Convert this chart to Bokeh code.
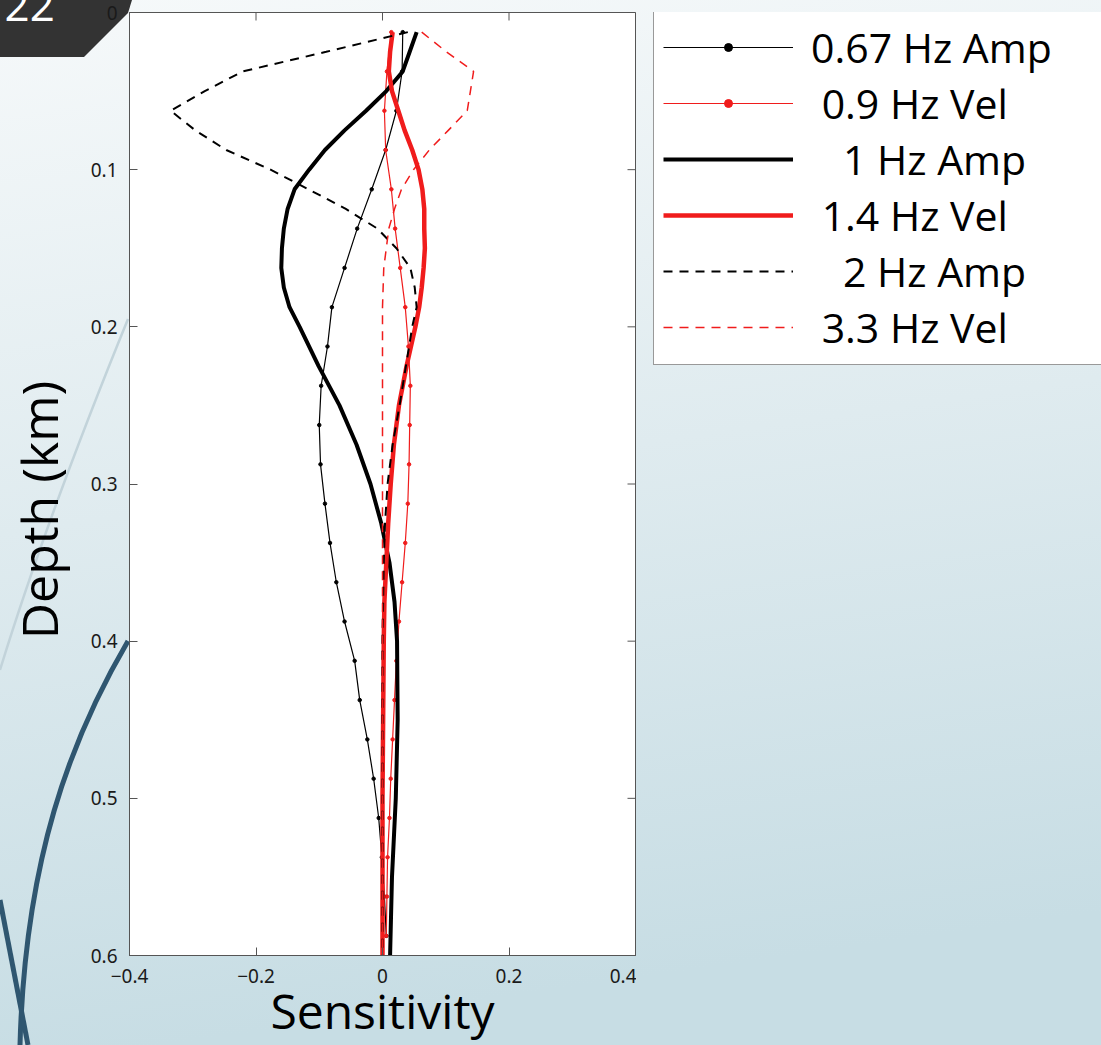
import math
import urllib.parse
from bokeh.plotting import figure
from bokeh.layouts import row
from bokeh.models import Legend, LegendItem, FixedTicker, Range1d
from bokeh.embed import file_html
from bokeh.resources import INLINE

# ---------------- data ----------------
depth_marked = [0.0125, 0.0375, 0.0625, 0.0875, 0.1125, 0.1375, 0.1625, 0.1875,
                0.2125, 0.2375, 0.2625, 0.2875, 0.3125, 0.3375, 0.3625, 0.3875,
                0.4125, 0.4375, 0.4625, 0.4875, 0.5125, 0.5375, 0.5625, 0.5875]
amp_067 = [0.032, 0.031, 0.022, 0.005, -0.017, -0.040, -0.060, -0.080,
           -0.087, -0.097, -0.100, -0.098, -0.091, -0.083, -0.073, -0.060,
           -0.044, -0.036, -0.024, -0.014, -0.006, -0.001, 0.003, 0.006]
vel_09 = [0.014, 0.007, 0.003, 0.005, 0.014, 0.020, 0.028, 0.036,
          0.041, 0.044, 0.043, 0.042, 0.040, 0.036, 0.031, 0.026,
          0.022, 0.019, 0.016, 0.013, 0.011, 0.008, 0.007, 0.006]

depth_fine = [0.0125, 0.025, 0.0375, 0.05, 0.0625, 0.075, 0.0875, 0.1, 0.1125,
              0.125, 0.1375, 0.15, 0.1625, 0.175, 0.1875, 0.2, 0.225, 0.25,
              0.275, 0.3, 0.325, 0.35, 0.375, 0.4, 0.45, 0.5, 0.55, 0.6]
amp_1 = [0.054, 0.043, 0.032, 0.006, -0.026, -0.060, -0.091, -0.116, -0.139,
         -0.150, -0.156, -0.159, -0.160, -0.156, -0.147, -0.131, -0.101, -0.068,
         -0.041, -0.019, -0.002, 0.011, 0.019, 0.023, 0.024, 0.021, 0.015, 0.012]
vel_14 = [0.016, 0.012, 0.010, 0.015, 0.025, 0.035, 0.047, 0.057, 0.063,
          0.066, 0.066, 0.067, 0.065, 0.062, 0.058, 0.052, 0.038, 0.026,
          0.018, 0.013, 0.009, 0.006, 0.003, 0.002, 0.001, 0.0, 0.0, 0.0]
amp_2 = [0.040, -0.089, -0.221, -0.281, -0.335, -0.296, -0.247, -0.177, -0.117,
         -0.058, -0.008, 0.022, 0.044, 0.051, 0.054, 0.047, 0.037, 0.027,
         0.016, 0.008, 0.004, 0.002, 0.001, 0.0, 0.0, 0.0, 0.0, 0.0]
vel_33 = [0.062, 0.101, 0.144, 0.139, 0.134, 0.104, 0.074, 0.049, 0.030,
          0.019, 0.010, 0.006, 0.002, 0.001, 0.0, 0.0, 0.0, 0.0,
          0.0, 0.0, 0.0, 0.0, 0.0, 0.0, 0.0, 0.0, 0.0, 0.0]

series_labels = ["0.67 Hz Amp", "0.9 Hz Vel", "1 Hz Amp", "1.4 Hz Vel", "2 Hz Amp", "3.3 Hz Vel"]
label_pad = [0, 1, 3, 1, 3, 1]  # leading spaces seen in the legend
x_ticks = [-0.4, -0.2, 0, 0.2, 0.4]
x_tick_labels = ["\u22120.4", "\u22120.2", "0", "0.2", "0.4"]
y_ticks = [0, 0.1, 0.2, 0.3, 0.4, 0.5, 0.6]
y_tick_labels = ["0", "0.1", "0.2", "0.3", "0.4", "0.5", "0.6"]
x_title = "Sensitivity"
y_title = "Depth (km)"
slide_number = "22"

# ---------------- page background (slide) ----------------
W, H = 1101, 1045
W1 = 636          # width of the chart part; the legend part fills the rest
bg_svg = (
    "<svg xmlns='http://www.w3.org/2000/svg' width='1101' height='1045'>"
    "<defs><linearGradient id='g' x1='0' y1='0' x2='0.15' y2='1'>"
    "<stop offset='0' stop-color='#f6f9fa'/><stop offset='0.5' stop-color='#dfebef'/>"
    "<stop offset='1' stop-color='#c7dde4'/></linearGradient></defs>"
    "<rect width='1101' height='1045' fill='url(#g)'/>"
    "<path d='M128,319 C95,400 40,540 0,670' stroke='#c2d3da' stroke-width='2.5' fill='none'/>"
    "<path d='M128,641 C70,740 25,860 20,1045' stroke='#2f5670' stroke-width='5' fill='none'/>"
    "<path d='M0,900 L28,1045' stroke='#2f5670' stroke-width='5' fill='none'/>"
    "<polygon points='0,0 132,0 128,13 84,57 0,57' fill='#333333'/>"
    "</svg>"
)
bg_url = "url(\"data:image/svg+xml," + urllib.parse.quote(bg_svg) + "\")"


def slide_bg(offset_x):
    return {"background-image": bg_url, "background-size": "1101px 1045px",
            "background-repeat": "no-repeat", "background-position": f"{-offset_x}px 0px"}


# ---------------- chart ----------------
p = figure(width=W1, height=H, x_range=Range1d(x_ticks[0], x_ticks[-1]),
           y_range=Range1d(y_ticks[-1], y_ticks[0]),
           output_backend="svg", toolbar_location=None,
           min_border_left=129, min_border_right=1, min_border_top=12, min_border_bottom=90,
           x_axis_label=x_title, y_axis_label=y_title + "\u00a0" * 4)
p.styles = slide_bg(0)
p.border_fill_alpha = 0
p.background_fill_color = "white"
p.outline_line_color = "#555555"
p.outline_line_width = 1
p.xgrid.visible = False
p.ygrid.visible = False

# slide number, drawn as the plot title over the dark corner tab
p.title.text = slide_number
p.title.text_color = "white"
p.title.text_font = "Open Sans"
p.title.text_font_size = "44px"
p.title.text_font_style = "normal"
p.title.align = "left"
p.title.vertical_align = "top"
p.title.offset = -125
p.title.standoff = -46

AX = "#555555"
for ax in (p.xaxis[0], p.yaxis[0]):
    ax.major_tick_in = 8
    ax.major_tick_out = 0
    ax.minor_tick_line_color = None
    ax.major_tick_line_color = AX
    ax.axis_line_color = AX
    ax.major_label_text_font = "Noto Sans"
    ax.major_label_text_font_size = "19px"
    ax.major_label_text_color = "#1a1a1a"
    ax.axis_label_text_font = "Open Sans"
    ax.axis_label_text_font_style = "normal"
    ax.axis_label_text_color = "black"

p.xaxis[0].ticker = FixedTicker(ticks=x_ticks)
p.xaxis[0].major_label_overrides = dict(zip(x_ticks, x_tick_labels))
p.xaxis[0].major_label_standoff = 13
p.xaxis[0].axis_label_standoff = -8
p.xaxis[0].axis_label_text_font_size = "48px"
p.yaxis[0].ticker = FixedTicker(ticks=y_ticks)
p.yaxis[0].major_label_overrides = dict(zip(y_ticks, y_tick_labels))
p.yaxis[0].major_label_standoff = 12
p.yaxis[0].axis_label_standoff = 15
p.yaxis[0].axis_label_text_font_size = "50px"

# inward ticks on the right and top edges of the box
p.ray(x=[x_ticks[-1]] * len(y_ticks), y=y_ticks, length=8, length_units="screen",
      angle=math.pi, line_color=AX, line_width=1)
p.ray(x=x_ticks, y=[y_ticks[0]] * len(x_ticks), length=8, length_units="screen",
      angle=-math.pi / 2, line_color=AX, line_width=1)

RED = "#f01c1c"
styles = [
    dict(line_color="black", line_width=1.2, marker="black"),
    dict(line_color=RED, line_width=1.2, marker=RED),
    dict(line_color="black", line_width=4),
    dict(line_color=RED, line_width=4.5),
    dict(line_color="black", line_width=2, line_dash="9 7"),
    dict(line_color=RED, line_width=1.5, line_dash="9 7"),
]
series = [(amp_067, depth_marked), (vel_09, depth_marked), (amp_1, depth_fine),
          (vel_14, depth_fine), (amp_2, depth_fine), (vel_33, depth_fine)]

for (xs, ys), st in zip(series, styles):
    st = dict(st)
    mk = st.pop("marker", None)
    p.line(xs, ys, **st)
    if mk:
        p.scatter(xs, ys, size=3.5, color=mk)

# ---------------- legend panel (right part of the slide) ----------------
W2 = W - W1
q = figure(width=W2, height=H, x_range=Range1d(0, 1), y_range=Range1d(0, 1),
           output_backend="svg", toolbar_location=None,
           x_axis_location=None, y_axis_location=None,
           min_border=0, min_border_left=0, min_border_right=0,
           min_border_top=0, min_border_bottom=0)
q.styles = slide_bg(W1)
q.border_fill_alpha = 0
q.background_fill_alpha = 0
q.outline_line_color = None
q.grid.visible = False

items = []
for lab, pad, (xs, ys), st in zip(series_labels, label_pad, series, styles):
    st = dict(st)
    mk = st.pop("marker", None)
    # legend keys: same styles, data placed outside this panel's view
    rs = [q.line(xs, [d + 5 for d in ys], **st)]
    if mk:
        rs.append(q.scatter(xs, [d + 5 for d in ys], size=7, color=mk))
    items.append(LegendItem(label="\u00a0" * pad + lab, renderers=rs))

legend = Legend(items=items, location=(653 - W1, 590),
                label_text_font="Open Sans", label_text_font_size="41px",
                label_text_color="black",
                glyph_width=130, glyph_height=20, label_standoff=18,
                label_height=56, label_width=300,
                padding=9, spacing=0, margin=0,
                border_line_color="#333333", border_line_width=1.5,
                background_fill_color="white", background_fill_alpha=1)
q.add_layout(legend, "center")

layout = row(p, q, spacing=0)
open("out.html", "w").write(file_html(layout, INLINE))
